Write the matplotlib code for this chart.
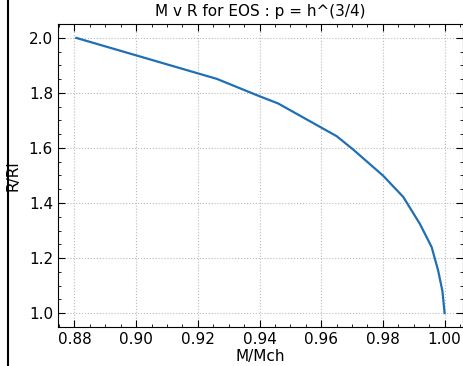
import numpy as np
import matplotlib.pyplot as plt
from matplotlib.ticker import AutoMinorLocator
from matplotlib.lines import Line2D

# values
mass = [0.8806, 0.9262, 0.9400, 0.9460, 0.9602, 0.9650, 0.9704, 0.9801,
        0.9866, 0.9920, 0.9958, 0.9979, 0.9993, 1.0000]
radius = [2.000, 1.851, 1.788, 1.762, 1.673, 1.643, 1.594, 1.499,
          1.422, 1.324, 1.240, 1.155, 1.080, 1.000]

fig = plt.figure(figsize=(4.63, 3.66), dpi=100)
ax = fig.add_axes([0.125, 0.107, 0.875, 0.827])

ax.plot(mass, radius, color='#1f6fb4', linewidth=1.6)

ax.set_title('M v R for EOS : p = h^(3/4)', fontsize=11)
ax.set_xlabel('M/Mch', fontsize=11, labelpad=2)
ax.set_ylabel('R/Rl', fontsize=11, labelpad=6)

ax.xaxis.set_minor_locator(AutoMinorLocator(4))
ax.yaxis.set_minor_locator(AutoMinorLocator(4))
ax.tick_params(which='both', direction='in', top=True, right=True, labelsize=11)
ax.tick_params(which='major', length=5)
ax.tick_params(which='minor', length=2.5)
ax.grid(True, which='major', linestyle=':', color='#bbbbbb', linewidth=0.8)

# black border line at the left of the screenshot
fig.add_artist(Line2D([0.018, 0.018], [0, 1], color='black', linewidth=1.5))

fig.savefig('out.png', dpi=100)
